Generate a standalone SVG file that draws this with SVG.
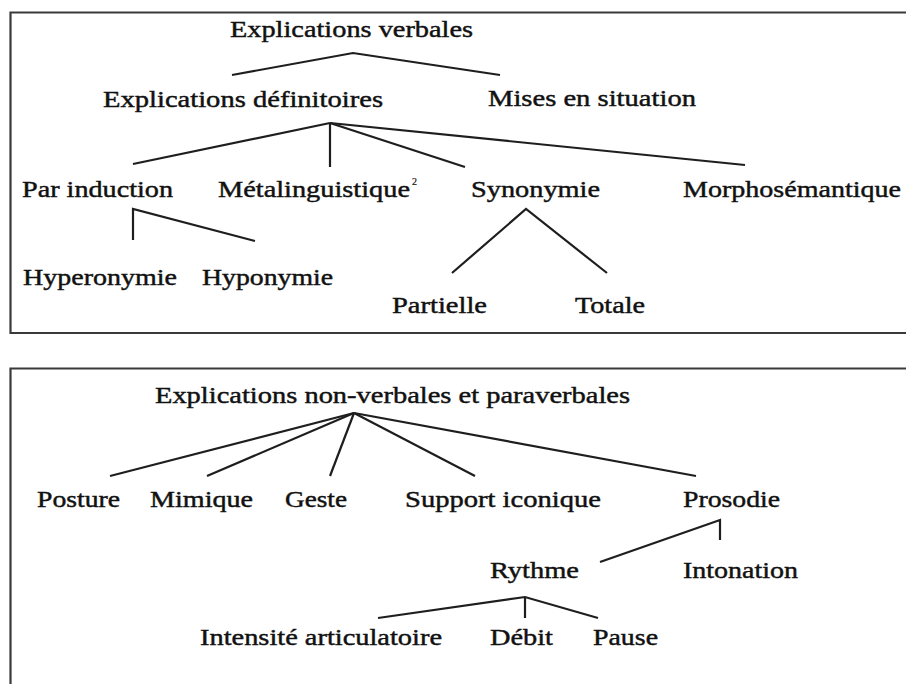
<svg xmlns="http://www.w3.org/2000/svg" width="906" height="684" viewBox="0 0 906 684">
<style>
  .frame { fill: none; stroke: #3a3a3a; stroke-width: 2.2; }
  .edge { fill: none; stroke: #1e1e1e; stroke-width: 2.2; stroke-linejoin: miter; }
  text { font-family: "Liberation Serif", "Times New Roman", serif; font-size: 24px; fill: #111; stroke: #111; stroke-width: 0.45; }
  .sup { font-size: 10px; stroke-width: 0.2; }
</style>
<rect width="906" height="684" fill="#ffffff"/>
<g id="frames">
  <path class="frame" d="M906,12.5 H10.5 V333 H906"/>
  <path class="frame" d="M906,368.5 H10.5 V684"/>
</g>
<g id="connectors">
  <polyline class="edge" points="232,75 353,53 500,75"/>
  <line class="edge" x1="330" y1="123" x2="133" y2="164"/>
  <line class="edge" x1="330" y1="123" x2="330" y2="167"/>
  <line class="edge" x1="330" y1="123" x2="465" y2="167"/>
  <line class="edge" x1="330" y1="123" x2="745" y2="165"/>
  <polyline class="edge" points="133,240 133,209 255,241"/>
  <polyline class="edge" points="452,273 526,209 607,273"/>
  <line class="edge" x1="354" y1="413" x2="110" y2="476"/>
  <line class="edge" x1="354" y1="413" x2="207" y2="476"/>
  <line class="edge" x1="354" y1="413" x2="330" y2="476"/>
  <line class="edge" x1="354" y1="413" x2="475" y2="476"/>
  <line class="edge" x1="354" y1="413" x2="696" y2="476"/>
  <polyline class="edge" points="600,562 720,520 720,540"/>
  <polyline class="edge" points="378,618 525,597 598,618"/>
  <line class="edge" x1="525" y1="597" x2="525" y2="618"/>
</g>
<g id="n-explications-verbales"><text x="230" y="37" textLength="243" lengthAdjust="spacingAndGlyphs">Explications verbales</text></g>
<g id="n-explications-definitoires"><text x="103" y="107" textLength="280" lengthAdjust="spacingAndGlyphs">Explications définitoires</text></g>
<g id="n-mises-en-situation"><text x="488" y="106" textLength="208" lengthAdjust="spacingAndGlyphs">Mises en situation</text></g>
<g id="n-par-induction"><text x="22" y="197" textLength="151" lengthAdjust="spacingAndGlyphs">Par induction</text></g>
<g id="n-metalinguistique"><text x="218" y="197" textLength="192" lengthAdjust="spacingAndGlyphs">Métalinguistique</text><text class="sup" x="412" y="185">2</text></g>
<g id="n-synonymie"><text x="471" y="197" textLength="129" lengthAdjust="spacingAndGlyphs">Synonymie</text></g>
<g id="n-morphosemantique"><text x="683" y="197" textLength="218" lengthAdjust="spacingAndGlyphs">Morphosémantique</text></g>
<g id="n-hyperonymie"><text x="23" y="285" textLength="154" lengthAdjust="spacingAndGlyphs">Hyperonymie</text></g>
<g id="n-hyponymie"><text x="202" y="285" textLength="131" lengthAdjust="spacingAndGlyphs">Hyponymie</text></g>
<g id="n-partielle"><text x="392" y="313" textLength="95" lengthAdjust="spacingAndGlyphs">Partielle</text></g>
<g id="n-totale"><text x="575" y="313" textLength="70" lengthAdjust="spacingAndGlyphs">Totale</text></g>
<g id="n-explications-nonverbales"><text x="155" y="403" textLength="475" lengthAdjust="spacingAndGlyphs">Explications non-verbales et paraverbales</text></g>
<g id="n-posture"><text x="37" y="507" textLength="83" lengthAdjust="spacingAndGlyphs">Posture</text></g>
<g id="n-mimique"><text x="150" y="507" textLength="103" lengthAdjust="spacingAndGlyphs">Mimique</text></g>
<g id="n-geste"><text x="285" y="507" textLength="62" lengthAdjust="spacingAndGlyphs">Geste</text></g>
<g id="n-support-iconique"><text x="405" y="507" textLength="196" lengthAdjust="spacingAndGlyphs">Support iconique</text></g>
<g id="n-prosodie"><text x="683" y="507" textLength="97" lengthAdjust="spacingAndGlyphs">Prosodie</text></g>
<g id="n-rythme"><text x="490" y="578" textLength="89" lengthAdjust="spacingAndGlyphs">Rythme</text></g>
<g id="n-intonation"><text x="683" y="578" textLength="115" lengthAdjust="spacingAndGlyphs">Intonation</text></g>
<g id="n-intensite"><text x="200" y="645" textLength="242" lengthAdjust="spacingAndGlyphs">Intensité articulatoire</text></g>
<g id="n-debit"><text x="490" y="645" textLength="63" lengthAdjust="spacingAndGlyphs">Débit</text></g>
<g id="n-pause"><text x="593" y="645" textLength="65" lengthAdjust="spacingAndGlyphs">Pause</text></g>
</svg>
